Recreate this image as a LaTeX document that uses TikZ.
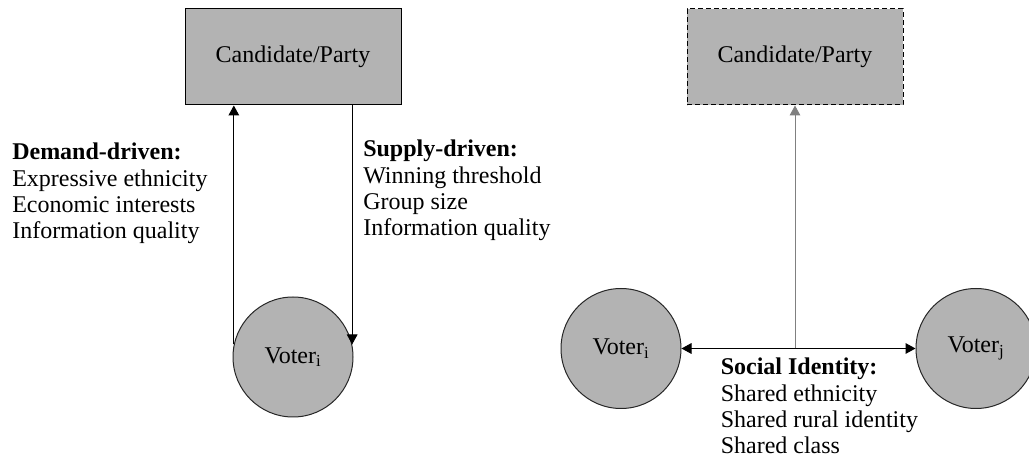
\documentclass[tikz,border=0pt]{standalone}
\usepackage{fontspec}
\setmainfont{Liberation Serif}
\usetikzlibrary{arrows.meta}
\definecolor{boxfill}{HTML}{B3B3B3}
\definecolor{lgray}{HTML}{808080}
\tikzset{
  txt/.style={font=\fontsize{18}{19.75}\selectfont},
  partybox/.style={txt, draw=black, fill=boxfill, minimum width=216*0.75pt, minimum height=96*0.75pt, inner sep=0pt, line width=0.75pt},
  voter/.style={txt, circle, draw=black!85, fill=boxfill, minimum size=120*0.75pt, inner sep=0pt, line width=0.75pt},
  label/.style={txt, align=left, anchor=north west, inner sep=0pt},
  arr/.style={-{Triangle[length=7.5pt,width=8pt]}, line width=0.75pt},
  darr/.style={{Triangle[length=7.5pt,width=8pt]}-{Triangle[length=7.5pt,width=8pt]}, line width=0.75pt},
}
\begin{document}
\begin{tikzpicture}[x=0.75pt,y=-0.75pt]
\useasboundingbox (0,0) rectangle (1029,459);
% left diagram
\node[partybox] (box1) at (293,57) {Candidate/Party};
\node[voter] (v1) at (293,357) {Voter\textsubscript{i}};
\draw[arr] (v1.168) -- (v1.168 |- box1.south);
\draw[arr] (v1.12 |- box1.south) -- (v1.12);
\node[label] (dem) at (12,143) {\textbf{Demand-driven:}\\Expressive ethnicity\\Economic interests\\Information quality};
\node[label] (sup) at (363,140) {\textbf{Supply-driven:}\\Winning threshold\\Group size\\Information quality};
% right diagram
\node[partybox, dash pattern=on 3.75pt off 2.25pt] (box2) at (795,57) {Candidate/Party};
\node[voter] (v2) at (621,348.5) {Voter\textsubscript{i}};
\node[voter] (v3) at (976,348.5) {Voter\textsubscript{j}};
\draw[darr] (v2.east) -- (v3.west);
\coordinate (mid) at (v2.east -| box2.south);
\draw[arr, draw=lgray] (mid) -- (box2.south);
\node[label] (soc) at (720.5,358) {\textbf{Social Identity:}\\Shared ethnicity\\Shared rural identity\\Shared class};
\end{tikzpicture}
\end{document}
